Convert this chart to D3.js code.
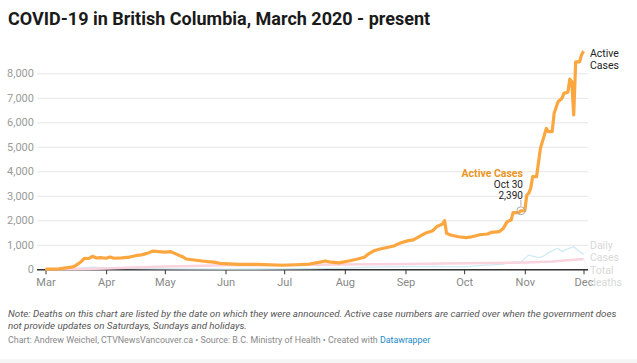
<!DOCTYPE html>
<html>
<head>
<meta charset="utf-8">
<script src="https://cdn.jsdelivr.net/npm/d3@7"></script>
<style>
  body { margin: 0; background: #fff; font-family: Roboto, "Noto Sans", sans-serif; }
  svg text { font-family: Roboto, "Noto Sans", sans-serif; }
</style>
</head>
<body>
<div id="viz"></div>
<script>
// active cases (carried over on weekends)
const activeDates = ['2020-03-01','2020-03-08','2020-03-15','2020-03-16','2020-03-19','2020-03-21','2020-03-23','2020-03-25','2020-03-27','2020-03-29',
  '2020-04-01','2020-04-03','2020-04-05','2020-04-09','2020-04-13','2020-04-16','2020-04-19','2020-04-22','2020-04-25','2020-04-28',
  '2020-05-01','2020-05-04','2020-05-06','2020-05-10','2020-05-12','2020-05-16','2020-05-20','2020-05-23','2020-05-26','2020-05-29',
  '2020-06-08','2020-06-18','2020-06-30','2020-07-07','2020-07-14','2020-07-18','2020-07-22','2020-07-25','2020-07-29',
  '2020-08-03','2020-08-07','2020-08-11','2020-08-13','2020-08-16','2020-08-19','2020-08-22','2020-08-26','2020-08-29',
  '2020-09-02','2020-09-05','2020-09-08','2020-09-11','2020-09-15','2020-09-17','2020-09-20','2020-09-21','2020-09-22','2020-09-24','2020-09-28',
  '2020-10-02','2020-10-05','2020-10-09','2020-10-13','2020-10-15','2020-10-19','2020-10-21','2020-10-23','2020-10-25','2020-10-26','2020-10-29','2020-10-30',
  '2020-11-01','2020-11-02','2020-11-03','2020-11-04','2020-11-05','2020-11-07','2020-11-09','2020-11-10','2020-11-12','2020-11-13','2020-11-15',
  '2020-11-16','2020-11-18','2020-11-20','2020-11-21','2020-11-23','2020-11-24','2020-11-25','2020-11-26','2020-11-27','2020-11-29','2020-11-30','2020-12-01']
const activeValues = [8,20,100,130,300,450,440,530,460,480,
  450,500,450,470,500,555,590,650,745,720,
  700,720,650,515,420,380,340,310,290,245,
  205,205,165,185,215,270,340,290,260,
  340,410,490,625,760,830,880,950,1060,
  1160,1200,1330,1470,1575,1740,1850,1985,1470,1400,1330,
  1290,1330,1410,1440,1510,1540,1670,1945,2010,2310,2310,2390,
  2390,3030,3100,3300,3780,3780,4940,5210,5750,5620,5620,
  6370,6840,6980,7180,7230,7760,7660,6300,8470,8470,8750,8910]

const dailyDates = ['2020-03-01','2020-03-15','2020-03-25','2020-04-05','2020-04-20','2020-05-05','2020-06-01','2020-07-01','2020-07-15','2020-08-01',
  '2020-08-15','2020-09-01','2020-09-15','2020-10-01','2020-10-10','2020-10-20','2020-10-25','2020-10-30','2020-11-03','2020-11-08',
  '2020-11-10','2020-11-14','2020-11-18','2020-11-20','2020-11-22','2020-11-26','2020-11-28','2020-12-01']
const dailyValues = [0,30,90,40,30,20,10,15,30,50,
  90,110,120,100,160,200,280,300,580,480,
  515,720,860,720,800,920,780,620]

const deathDates = ['2020-03-01','2020-03-20','2020-04-01','2020-04-15','2020-05-01','2020-05-15','2020-06-01','2020-07-01','2020-08-01','2020-09-01',
  '2020-10-01','2020-10-15','2020-11-01','2020-11-15','2020-12-01']
const deathValues = [0,10,30,75,110,135,165,175,200,215,245,260,280,320,420]

const yTicks = [0,1000,2000,3000,4000,5000,6000,7000,8000]

const w = 637, h = 363
const parse = d3.timeParse('%Y-%m-%d')

const svg = d3.select('#viz').append('svg')
  .attr('width', w).attr('height', h)

// title
svg.append('text')
  .attr('x', 8).attr('y', 25)
  .style('font-size', '18px').style('font-weight', 700).style('fill', '#1a1a1a')
  .text('COVID-19 in British Columbia, March 2020 - present')

var x = d3.scaleTime()
  .domain([parse('2020-03-01'), parse('2020-12-01')])
  .range([45.5, 583.5])

var y = d3.scaleLinear()
  .domain([0, 8000])
  .range([269.3, 73.3])

// gridlines + y labels
var yAxis = svg.append('g')
  .attr('transform', 'translate(37,0)')
  .call(d3.axisRight(y).tickValues(yTicks).tickSize(551).tickFormat(d3.format(',')))
yAxis.select('.domain').remove()
yAxis.selectAll('.tick line').attr('stroke', '#e6e6e6')
yAxis.selectAll('.tick text')
  .attr('x', -3).attr('text-anchor', 'end')
  .style('font-size', '11px').style('fill', '#9a9a9a')

// x axis
var xAxis = svg.append('g')
  .attr('transform', 'translate(0,269.3)')
  .call(d3.axisBottom(x).ticks(d3.timeMonth.every(1)).tickFormat(d3.timeFormat('%b')).tickSize(5).tickSizeOuter(0))
xAxis.select('.domain').attr('d', 'M37,0.5H588').attr('stroke', '#333').attr('stroke-width', 1.5)
xAxis.selectAll('.tick line').attr('stroke', '#333')
xAxis.selectAll('.tick text')
  .attr('y', 9)
  .style('font-size', '11px').style('fill', '#888')

var line = d3.line().x(d => x(d.date)).y(d => y(d.value))

function series(dates, values) {
  return dates.map((d, i) => ({date: parse(d), value: values[i]}))
}

svg.append('path')
  .datum(series(dailyDates, dailyValues))
  .attr('d', line).attr('fill', 'none')
  .attr('stroke', '#cfeaf5').attr('stroke-width', 1.3)

svg.append('path')
  .datum(series(deathDates, deathValues))
  .attr('d', line).attr('fill', 'none')
  .attr('stroke', '#f9d3dd').attr('stroke-width', 2.5)

svg.append('path')
  .datum(series(activeDates, activeValues))
  .attr('d', line).attr('fill', 'none')
  .attr('stroke', '#fca63f').attr('stroke-width', 3.2)
  .attr('stroke-linejoin', 'round')

// line labels on the right
function label(lines, yy, col) {
  var t = svg.append('text').attr('x', 590).attr('y', yy)
    .style('font-size', '10.5px').style('fill', col)
  lines.forEach((s, i) => t.append('tspan').attr('x', 590).attr('dy', i ? 11.5 : 0).text(s))
}
label(['Active', 'Cases'], y(8910) + 6, '#222')
label(['Daily', 'Cases'], y(950) + 3, '#d8d8d8')
label(['Total', 'deaths'], y(0) + 5, '#d8d8d8')

// connectors from line ends to the faint labels
svg.append('path')
  .attr('d', 'M' + x(parse('2020-12-01')) + ',' + y(620) + 'L589,' + y(820))
  .attr('stroke', '#d8eef7').attr('stroke-dasharray', '1,1.5')
svg.append('path')
  .attr('d', 'M' + x(parse('2020-12-01')) + ',' + y(420) + 'L589,' + y(-80))
  .attr('stroke', '#f6d7df').attr('stroke-dasharray', '1,1.5')

// annotation
var ax = x(parse('2020-10-30')), ay = y(2390)
svg.append('circle').attr('cx', ax).attr('cy', ay).attr('r', 4)
  .attr('fill', 'none').attr('stroke', '#aaa').attr('stroke-width', 1)
svg.append('line').attr('x1', ax).attr('x2', ax).attr('y1', ay - 5).attr('y2', ay - 11)
  .attr('stroke', '#aaa')
svg.append('text').attr('x', ax + 2).attr('y', 177).attr('text-anchor', 'end')
  .style('font-size', '10.5px').style('font-weight', 700).style('fill', '#e8951f')
  .text('Active Cases')
svg.append('text').attr('x', ax + 2).attr('y', 188).attr('text-anchor', 'end')
  .style('font-size', '10px').style('fill', '#222').text('Oct 30')
svg.append('text').attr('x', ax + 2).attr('y', 199).attr('text-anchor', 'end')
  .style('font-size', '10px').style('fill', '#222').text('2,390')

// notes
svg.append('text').attr('x', 8).attr('y', 317)
  .style('font-size', '9.75px').style('font-style', 'italic').style('fill', '#555')
  .text('Note: Deaths on this chart are listed by the date on which they were announced. Active case numbers are carried over when the government does')
svg.append('text').attr('x', 8).attr('y', 329)
  .style('font-size', '9.75px').style('font-style', 'italic').style('fill', '#555')
  .text('not provide updates on Saturdays, Sundays and holidays.')
var cr = svg.append('text').attr('x', 8).attr('y', 343)
  .style('font-size', '8.9px').style('fill', '#888')
cr.append('tspan').text('Chart: Andrew Weichel, CTVNewsVancouver.ca \u2022 Source: B.C. Ministry of Health \u2022 Created with ')
cr.append('tspan').style('fill', '#1d8ac7').text('Datawrapper')

svg.append('rect').attr('x', 0).attr('y', 359).attr('width', w).attr('height', 4).attr('fill', '#f5f5f5')
</script>
</body>
</html>
